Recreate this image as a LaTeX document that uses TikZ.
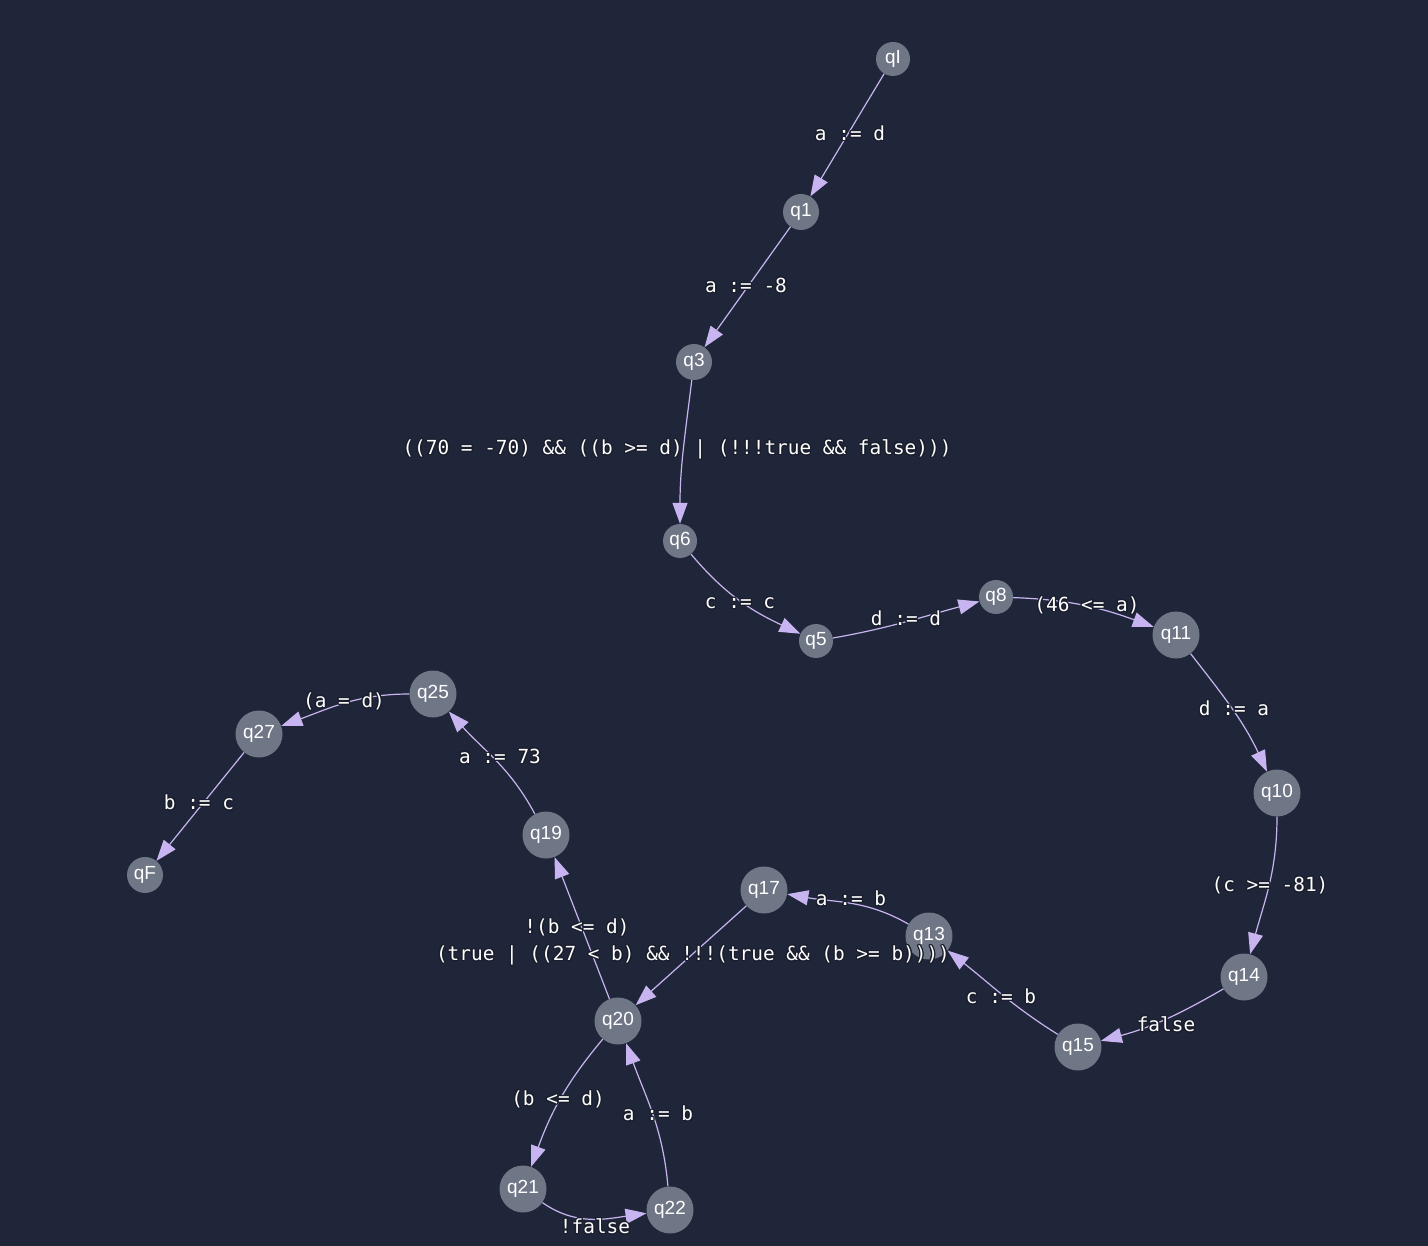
\documentclass[tikz,border=0pt]{standalone}
\usepackage{fontspec}
\setmainfont{Liberation Sans}
\newfontfamily\monofont{DejaVu Sans Mono}
\usepackage{contour}
\contourlength{1.2pt}
\contournumber{16}
\usetikzlibrary{arrows.meta}
\definecolor{bgc}{HTML}{1F2639}
\definecolor{nodec}{HTML}{6F7685}
\definecolor{edgec}{HTML}{C8B4F0}
\definecolor{haloc}{HTML}{1A1D2B}
\newcommand{\halo}[1]{\contour{haloc}{#1}}
\tikzset{
  st/.style={circle, fill=nodec, text=white, inner sep=0pt, font=\fontsize{19}{19}\selectfont},
  sts/.style={st, minimum size=34pt},
  stl/.style={st, minimum size=47pt},
  tr/.style={draw=edgec, line width=1.2pt, -{Triangle[length=21pt,width=15pt]}},
  lab/.style={text=white, font=\monofont\fontsize{19.4}{23}\selectfont, inner sep=0pt},
}
\begin{document}
\begin{tikzpicture}[x=1pt,y=-1pt]
\fill[bgc] (0,0) rectangle (1428,1246);
\useasboundingbox (0,0) rectangle (1428,1246);
% nodes
\node[sts] (qI) at (893,59) {qI};
\node[sts, minimum size=36pt] (q1) at (801,212) {q1};
\node[sts, minimum size=36pt] (q3) at (694,362) {q3};
\node[sts] (q6) at (680,541) {q6};
\node[sts] (q5) at (816,641) {q5};
\node[sts] (q8) at (996,597) {q8};
\node[stl] (q11) at (1176,635) {q11};
\node[stl] (q10) at (1277,793) {q10};
\node[stl] (q14) at (1244,977) {q14};
\node[stl] (q15) at (1078,1047) {q15};
\node[stl] (q13) at (929,936) {q13};
\node[stl] (q17) at (764,890) {q17};
\node[stl] (q20) at (618,1021) {q20};
\node[stl] (q19) at (546,835) {q19};
\node[stl] (q25) at (433,694) {q25};
\node[stl] (q27) at (259,734) {q27};
\node[sts, minimum size=36pt] (qF) at (145,875) {qF};
\node[stl] (q21) at (523,1189) {q21};
\node[stl] (q22) at (670,1210) {q22};
% edges
\draw[tr] (qI) -- (q1);
\draw[tr] (q1) -- (q3);
\draw[tr] (q3) to[out=-97,in=90] (q6);
\draw[tr] (q6) to[out=-50,in=155] (q5);
\draw[tr] (q5) to[out=10,in=195] (q8);
\draw[tr] (q8) to[out=-2,in=160] (q11);
\draw[tr] (q11) to[out=-52,in=115] (q10);
\draw[tr] (q10) to[out=-90,in=75] (q14);
\draw[tr] (q14) to[out=-150,in=15] (q15);
\draw[tr] (q15) to[out=148,in=-38] (q13);
\draw[tr] (q13) to[out=150,in=-10] (q17);
\draw[tr] (q17) -- (q20);
\draw[tr] (q20) -- (q19);
\draw[tr] (q19) to[out=118,in=-48] (q25);
\draw[tr] (q25) to[out=180,in=20] (q27);
\draw[tr] (q27) -- (qF);
\draw[tr] (q20) to[out=-130,in=70] (q21);
\draw[tr] (q21) to[out=-35,in=188] (q22);
\draw[tr] (q22) to[out=95,in=-70] (q20);
% labels
\node[lab] (l1) at (850,134) {\halo{a := d}};
\node[lab] (l2) at (746,286) {\halo{a := -8}};
\node[lab] (l3) at (677,450) {\halo{((70 = -70) \&\& ((b >= d) | (!!!true \&\& false)))}};
\node[lab] (l4) at (740,604) {\halo{c := c}};
\node[lab] (l5) at (906,619) {\halo{d := d}};
\node[lab] (l6) at (1087,606) {\halo{(46 <= a)}};
\node[lab] (l7) at (1234,709) {\halo{d := a}};
\node[lab] (l8) at (1270,886) {\halo{(c >= -81)}};
\node[lab] (l9) at (1166,1025) {\halo{false}};
\node[lab] (l10) at (1001,997) {\halo{c := b}};
\node[lab] (l11) at (851,899) {\halo{a := b}};
\node[lab] (l12) at (693,956) {\halo{(true | ((27 < b) \&\& !!!(true \&\& (b >= b))))}};
\node[lab] (l13) at (577,928) {\halo{!(b <= d)}};
\node[lab] (l14) at (500,757) {\halo{a := 73}};
\node[lab] (l15) at (344,702) {\halo{(a = d)}};
\node[lab] (l16) at (199,803) {\halo{b := c}};
\node[lab] (l17) at (558,1100) {\halo{(b <= d)}};
\node[lab] (l18) at (658,1114) {\halo{a := b}};
\node[lab] (l19) at (595,1227) {\halo{!false}};
\end{tikzpicture}
\end{document}
